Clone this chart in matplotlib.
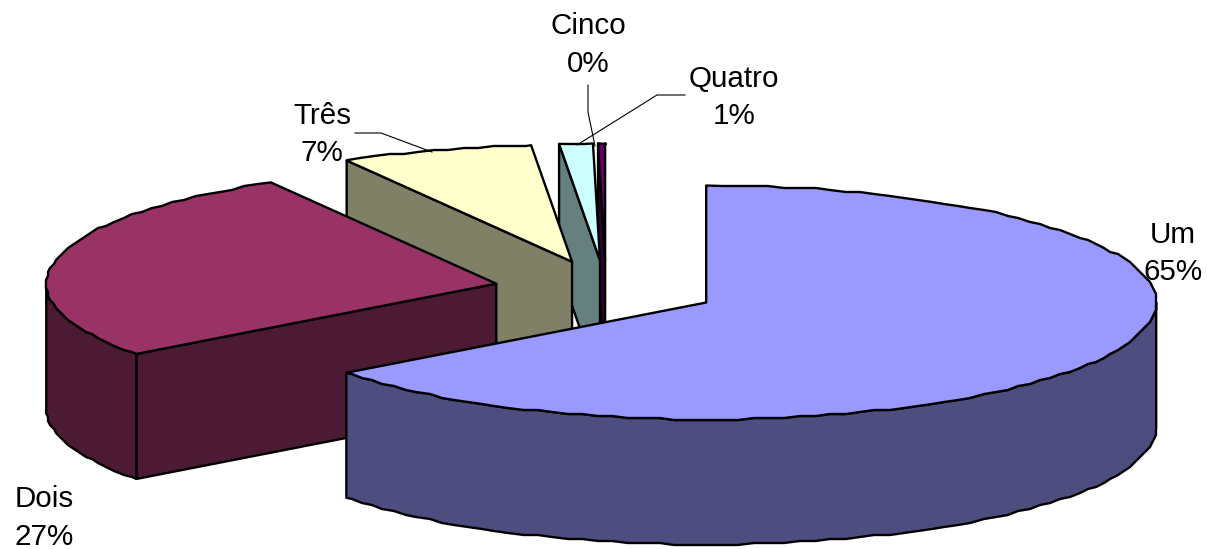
import numpy as np
import matplotlib
matplotlib.use('Agg')
import matplotlib.pyplot as plt
from matplotlib.patches import Polygon

# data
categories = ['Um', 'Dois', 'Três', 'Quatro', 'Cinco']
shares = [64.75, 26.9, 6.9, 1.2, 0.25]
top_colors = ['#9999FF', '#993366', '#FFFFCC', '#CCFFFF', '#660066']
wall_colors = ['#4D4D80', '#4D1A33', '#808066', '#668080', '#330033']

# pie layout in pixels
CX, CY = 606, 289.5
RX, RY = 450, 117
DEPTH = 125
EXPLODE = 112
EDGE = 1.7
STEP = 2.0  # degrees between rim samples
SNAP = 2.0  # the original rim is slightly bumpy

label_pos = {
    'Um': (1173, 253.5),
    'Dois': (44, 518),
    'Três': (322, 134.5),
    'Quatro': (734, 97.5),
    'Cinco': (588, 45),
}
leaders = {
    'Três': ([355, 381, 432], [133, 133, 152]),
    'Quatro': ([685, 657, 577], [95, 95, 145]),
    'Cinco': ([588, 588, 595], [85, 112, 146]),
}

plt.rcParams['font.family'] = ['Liberation Sans', 'DejaVu Sans']

fig = plt.figure(figsize=(12.07, 5.49), dpi=100)
ax = fig.add_axes([0, 0, 1, 1])
ax.set_xlim(0, 1207)
ax.set_ylim(549, 0)
ax.axis('off')


def rim(cx, cy, angles):
    rad = np.radians(angles)
    return np.column_stack([cx + RX * np.cos(rad), cy - RY * np.sin(rad)])


def bumpy_rim(cx, cy, start, end):
    # same angle grid for top and wall so their outlines line up
    grid = np.arange(np.ceil(end / STEP), np.floor(start / STEP) + 1)[::-1] * STEP
    grid = grid[(grid < start) & (grid > end)]
    mids = rim(cx, cy, grid)
    mids = np.round(mids / SNAP) * SNAP
    return np.vstack([rim(cx, cy, [start]), mids, rim(cx, cy, [end])])


def draw_slice(start, end, top, wall, z):
    # start > end, the slices run clockwise
    mid = np.radians((start + end) / 2)
    cx = CX + EXPLODE * np.cos(mid)
    cy = CY - EXPLODE * RY / RX * np.sin(mid)
    centre = np.array([[cx, cy]])
    down = np.array([0, DEPTH])

    # radial wall on the start side faces the viewer when its normal points front
    for ang, normal in ((start, start + 90), (end, end - 90)):
        if np.sin(np.radians(normal)) < -0.01:
            edge = np.vstack([centre, rim(cx, cy, [ang])])
            pts = np.vstack([edge, edge[::-1] + down])
            ax.add_patch(Polygon(pts, fc=wall, ec='black', lw=EDGE, zorder=z, joinstyle='round'))

    # outer wall, only the front half of the ellipse
    wall_start = min(start, 0.0)
    wall_end = max(end, -180.0)
    if wall_start > wall_end:
        arc = bumpy_rim(cx, cy, wall_start, wall_end)
        pts = np.vstack([arc, arc[::-1] + down])
        ax.add_patch(Polygon(pts, fc=wall, ec='black', lw=EDGE, zorder=z, joinstyle='round'))

    pts = np.vstack([centre, bumpy_rim(cx, cy, start, end)])
    ax.add_patch(Polygon(pts, fc=top, ec='black', lw=EDGE, zorder=z + 0.5, joinstyle='round'))


ends = 90 - np.cumsum(shares) * 3.6
starts = np.concatenate([[90], ends[:-1]])
# back to front: last slice first
for i in range(len(categories) - 1, -1, -1):
    draw_slice(starts[i], ends[i], top_colors[i], wall_colors[i], 10 - i)

for name, (xs, ys) in leaders.items():
    ax.plot(xs, ys, color='black', lw=0.8, zorder=20)

for name, share in zip(categories, shares):
    x, y = label_pos[name]
    ax.text(x, y, '%s\n%.0f%%' % (name, share), ha='center', va='center',
            fontsize=21.3, linespacing=1.45, color='black', zorder=30)

fig.savefig('out.png', dpi=100)
